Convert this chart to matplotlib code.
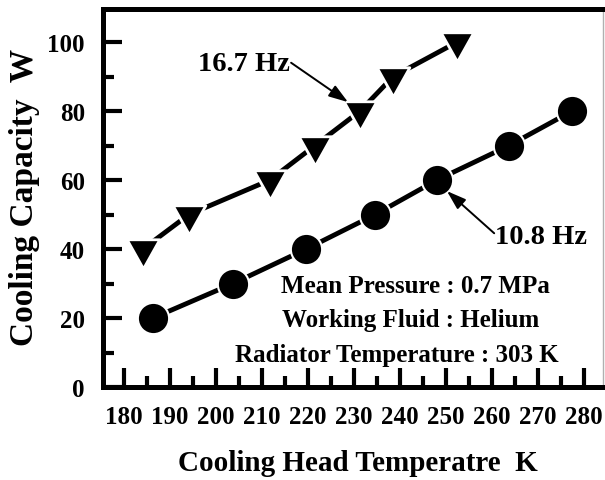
import matplotlib
matplotlib.use("Agg")
import matplotlib.pyplot as plt
from matplotlib.path import Path
from matplotlib.ticker import MultipleLocator

plt.rcParams['font.family'] = ['Liberation Serif', 'DejaVu Serif']
plt.rcParams['font.weight'] = 'bold'
plt.rcParams['axes.labelweight'] = 'bold'

# cooling head temperature (K) and cooling capacity (W)
temp_108 = [186.3, 203.7, 219.6, 234.6, 248.0, 263.7, 277.4]
cap_108 = [20, 30, 40, 50, 60, 70, 80]

temp_167 = [184.1, 194.1, 211.7, 221.5, 231.3, 238.5, 252.4]
cap_167 = [40, 50, 60, 70, 80, 90, 100]

conditions = [
    "Mean Pressure : 0.7 MPa",
    "Working Fluid : Helium",
    "Radiator Temperature : 303 K",
]

# downward triangle with its centroid on the data point
tri_down = Path([(-14, 8.33), (14, 8.33), (0, -16.67), (-14, 8.33)], closed=True)

fig = plt.figure(figsize=(6.05, 4.81), dpi=100)
ax = fig.add_axes([103 / 605, 1 - 388 / 481, 500 / 605, 378 / 481])

ax.plot(temp_167, cap_167, '-', color='k', lw=3.5,
        marker=tri_down, ms=28, mfc='k', mec='w', mew=2)
ax.plot(temp_108, cap_108, '-', color='k', lw=3.5,
        marker='o', ms=22.5, mfc='k', mec='w', mew=1.5)

ax.set_xlim(175.43, 284.13)
ax.set_ylim(0, 109.6)

ax.xaxis.set_major_locator(MultipleLocator(10))
ax.xaxis.set_minor_locator(MultipleLocator(5))
ax.yaxis.set_major_locator(MultipleLocator(20))
ax.yaxis.set_minor_locator(MultipleLocator(10))

ax.tick_params(which='both', direction='in', width=3, labelsize=18,
               top=False, right=False)
ax.tick_params(which='major', length=14)
ax.tick_params(which='minor', length=8)
ax.tick_params(axis='x', which='major', pad=13)
ax.tick_params(axis='y', which='major', pad=13)

for side in ['left', 'bottom', 'top']:
    ax.spines[side].set_linewidth(3.6)
ax.spines['right'].set_linewidth(1)
ax.spines['right'].set_color('#b0b0b0')

ax.set_xlabel('Cooling Head Temperatre  K', fontsize=21, va='center')
ax.xaxis.set_label_coords(0.51, -0.201)
ax.set_ylabel('Cooling Capacity  W', fontsize=24, va='center')
ax.yaxis.set_label_coords(-0.156, 0.503)

arrow = dict(arrowstyle='-|>,head_length=0.45,head_width=0.15',
             mutation_scale=26, color='k', lw=1.4,
             patchA=None, shrinkA=1, shrinkB=0)

ax.annotate('16.7 Hz', xy=(228.7, 82.6), xytext=(196.1, 92.0),
            ha='left', va='baseline', fontsize=20.5,
            arrowprops=dict(arrow, relpos=(1.0, 0.55)))
ax.annotate('10.8 Hz', xy=(250.2, 56.8), xytext=(260.7, 41.7),
            ha='left', va='baseline', fontsize=20.5,
            arrowprops=dict(arrow, relpos=(0.0, 0.6)))

# operating conditions
ax.text(243.3, 27.5, conditions[0], ha='center', va='baseline', fontsize=18)
ax.text(242.2, 17.7, conditions[1], ha='center', va='baseline', fontsize=18)
ax.text(239.2, 7.5, conditions[2], ha='center', va='baseline', fontsize=18)

fig.savefig('out.png', dpi=100)
